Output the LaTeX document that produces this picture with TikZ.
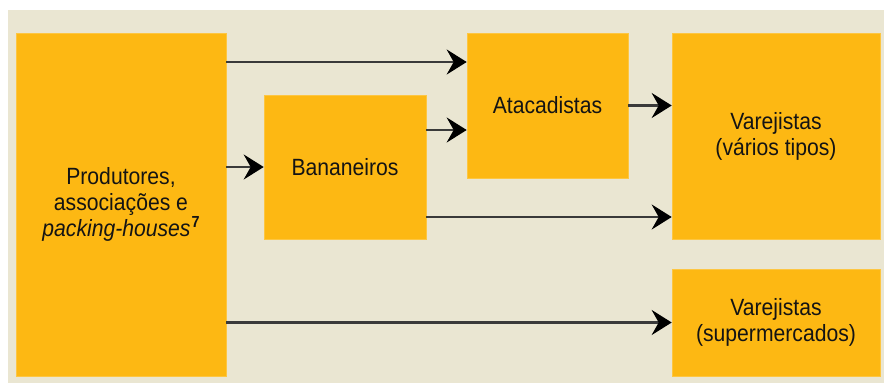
\documentclass[tikz,border=0pt]{standalone}
\usepackage{fontspec}
\setmainfont{Liberation Sans}[FakeStretch=0.9]
\usetikzlibrary{arrows.meta}
\definecolor{boxorange}{HTML}{FDB813}
\definecolor{panelbeige}{HTML}{EAE6D2}
\definecolor{linegray}{HTML}{3A3A3A}
\begin{document}
\begin{tikzpicture}[x=1pt,y=-1pt,
  box/.style={fill=boxorange, draw=boxorange!80!white, line width=0.6pt, inner sep=0pt, align=center,
    font=\fontsize{23.5}{26}\selectfont, text=black!92},
  arr/.style={draw=linegray, line width=2.3pt,
    -{Stealth[length=20pt,width=25pt,inset=7pt,fill=black,color=black]}}]
\useasboundingbox (0,0) rectangle (886,383);
\fill[white] (0,0) rectangle (886,383);
\fill[panelbeige] (8,10) rectangle (884,383);
\node[box, minimum width=210pt, minimum height=343pt] (prod) at (121,204.5)
  {Produtores,\\associações e\\\textit{packing-houses}\kern1pt\raisebox{9pt}{\fontsize{16}{16}\selectfont\textbf{7}}};
\node[box, minimum width=162pt, minimum height=144pt] (ban) at (345,167) {Bananeiros};
\node[box, minimum width=161pt, minimum height=145pt] (atac) at (547.5,105.5) {Atacadistas};
\node[box, minimum width=208pt, minimum height=206pt] (var) at (776,136) {Varejistas\\(vários tipos)};
\node[box, minimum width=208pt, minimum height=107pt] (sup) at (776,322.5) {Varejistas\\(supermercados)};
\coordinate (r1) at (0,62);
\coordinate (r2) at (0,130);
\coordinate (r3) at (0,217);
\draw[arr] (prod.east |- r1) -- (atac.west |- r1);
\draw[arr] (prod.east |- ban.west) -- (ban.west);
\draw[arr] (ban.east |- r2) -- (atac.west |- r2);
\draw[arr] (atac.east) -- (var.west |- atac.east);
\draw[arr] (ban.east |- r3) -- (var.west |- r3);
\draw[arr] (prod.east |- sup.west) -- (sup.west);
\end{tikzpicture}
\end{document}
